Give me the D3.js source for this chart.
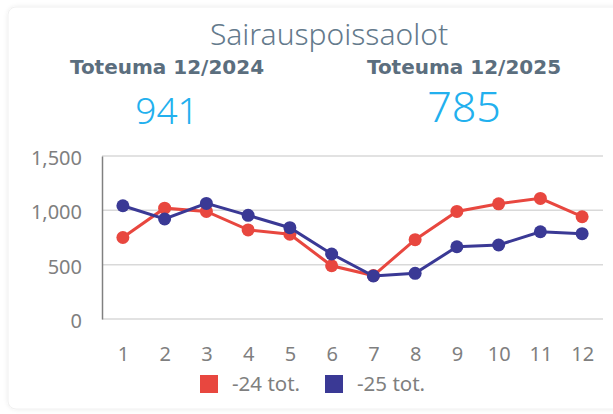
<!DOCTYPE html>
<html>
<head>
<meta charset="utf-8">
<script src="https://cdn.jsdelivr.net/npm/d3@7"></script>
<style>
  html, body { margin: 0; padding: 0; background: #fff; }
  svg { display: block; }
</style>
</head>
<body>
<svg id="viz" width="613" height="414"></svg>
<script>
// data
var months = ["1", "2", "3", "4", "5", "6", "7", "8", "9", "10", "11", "12"];
var tot24 = [750, 1020, 990, 820, 780, 490, 400, 730, 990, 1060, 1110, 941];
var tot25 = [1042, 920, 1064, 954, 840, 598, 396, 420, 665, 681, 803, 785];
var yTicks = [0, 500, 1000, 1500];
var seriesNames = ["-24 tot.", "-25 tot."];
var seriesColors = ["#e8473f", "#3a3995"];

var font = "'Noto Sans', 'Open Sans', sans-serif";
var width = 613, height = 414;
var margin = {top: 156, right: 10, bottom: 95, left: 102};

var svg = d3.select("#viz");

// card
var defs = svg.append("defs");
var f = defs.append("filter").attr("id", "shadow").attr("x", "-5%").attr("y", "-5%").attr("width", "110%").attr("height", "110%");
f.append("feDropShadow").attr("dx", 0).attr("dy", 0).attr("stdDeviation", 2).attr("flood-color", "#000").attr("flood-opacity", 0.08);

svg.append("rect")
    .attr("x", 8).attr("y", 7)
    .attr("width", 620).attr("height", 402)
    .attr("rx", 8)
    .attr("fill", "#fff")
    .attr("stroke", "#f0f0f0")
    .attr("filter", "url(#shadow)");

// header
svg.append("text")
    .attr("x", 329).attr("y", 45)
    .attr("text-anchor", "middle")
    .style("font", "300 30px " + font)
    .attr("fill", "#647a8c")
    .text("Sairauspoissaolot");

var heads = [
    {x: 167, label: "Toteuma 12/2024", value: "941", size: 37, y: 124},
    {x: 464, label: "Toteuma 12/2025", value: "785", size: 43, y: 122}
];

heads.forEach(function(h) {
    svg.append("text")
        .attr("x", h.x).attr("y", 74)
        .attr("text-anchor", "middle")
        .style("font", "bold 20px 'DejaVu Sans', Verdana, sans-serif")
        .attr("fill", "#5b6e7e")
        .text(h.label);
    svg.append("text")
        .attr("x", h.x).attr("y", h.y)
        .attr("text-anchor", "middle")
        .style("font", "300 " + h.size + "px " + font)
        .attr("fill", "#22b0ee")
        .text(h.value);
});

// scales
var x = d3.scalePoint()
    .domain(months)
    .range([margin.left, width - margin.right])
    .padding(0.5);

var y = d3.scaleLinear()
    .domain([0, 1500])
    .range([319, margin.top]);

// grid
svg.append("g")
    .selectAll("line")
    .data(yTicks)
    .enter().append("line")
    .attr("x1", margin.left).attr("x2", width - margin.right)
    .attr("y1", d => y(d)).attr("y2", d => y(d))
    .attr("stroke", "#d9d9d9")
    .attr("stroke-width", 1.5);

// y axis
var yAxis = g => g
    .attr("transform", `translate(${margin.left},0)`)
    .call(d3.axisLeft(y).tickValues(yTicks).tickSize(0).tickPadding(20).tickFormat(d3.format(",")))
    .call(g => g.select(".domain").attr("stroke", "#808080").attr("stroke-width", 1.5))
    .call(g => g.selectAll("text").attr("fill", "#7f7f7f").attr("dy", "0.42em").style("font", "20px " + font));

svg.append("g").call(yAxis);

// x axis labels
var xAxis = g => g
    .attr("transform", "translate(0,319)")
    .call(d3.axisBottom(x).tickSize(0).tickPadding(28))
    .call(g => g.select(".domain").remove())
    .call(g => g.selectAll("text").attr("fill", "#7f7f7f").style("font", "20px " + font));

svg.append("g").call(xAxis);

// lines
var line = d3.line()
    .x((d, i) => x(months[i]))
    .y(d => y(d));

[tot24, tot25].forEach(function(vals, k) {
    var g = svg.append("g");
    g.append("path")
        .datum(vals)
        .attr("fill", "none")
        .attr("stroke", seriesColors[k])
        .attr("stroke-width", 3)
        .attr("d", line);
    g.selectAll("circle")
        .data(vals)
        .enter().append("circle")
        .attr("cx", (d, i) => x(months[i]))
        .attr("cy", d => y(d))
        .attr("r", 6.5)
        .attr("fill", seriesColors[k]);
});

// legend
var legend = svg.append("g")
    .selectAll("g")
    .data(seriesNames)
    .enter().append("g")
    .attr("transform", (d, i) => `translate(${i == 0 ? 200 : 325},375)`);

legend.append("rect")
    .attr("width", 18).attr("height", 18)
    .attr("fill", (d, i) => seriesColors[i]);

legend.append("text")
    .attr("x", 32).attr("y", 9)
    .attr("dy", "0.36em")
    .attr("fill", "#7f7f7f")
    .style("font", "20.5px " + font)
    .text(d => d);
</script>
</body>
</html>
